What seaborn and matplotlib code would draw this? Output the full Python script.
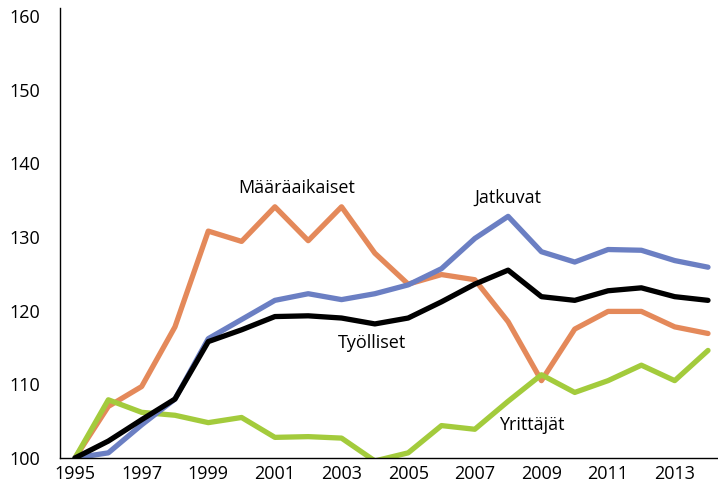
import numpy as np
import pandas as pd
import seaborn as sns
import matplotlib.pyplot as plt
from matplotlib.ticker import MultipleLocator, FixedLocator

years = list(range(1995, 2015))
jatkuvat = [100, 100.7, 104.5, 108, 116.2, 118.8, 121.4, 122.3, 121.5, 122.3,
            123.5, 125.7, 129.8, 132.8, 128, 126.6, 128.3, 128.2, 126.8, 125.9]
maaraaikaiset = [100, 107, 109.7, 117.8, 130.8, 129.4, 134.1, 129.5, 134.1, 127.8,
                 123.6, 124.9, 124.2, 118.5, 110.5, 117.5, 119.9, 119.9, 117.8, 116.9]
tyolliset = [100, 102.3, 105.2, 108, 115.8, 117.4, 119.2, 119.3, 119, 118.2,
             119, 121.2, 123.6, 125.5, 121.9, 121.4, 122.7, 123.1, 121.9, 121.4]
yrittajat = [100, 107.9, 106.2, 105.8, 104.8, 105.5, 102.8, 102.9, 102.7, 99.6,
             100.7, 104.4, 103.9, 107.7, 111.3, 108.9, 110.5, 112.6, 110.5, 114.6]
label_years = list(range(1995, 2014, 2))

series = {
    'Määräaikaiset': maaraaikaiset,
    'Yrittäjät': yrittajat,
    'Jatkuvat': jatkuvat,
    'Työlliset': tyolliset,
}
colors = {
    'Määräaikaiset': '#e4895a',
    'Yrittäjät': '#a3cb3c',
    'Jatkuvat': '#6b7fc3',
    'Työlliset': '#000000',
}

df = pd.concat([pd.DataFrame({'year': years, 'value': v, 'serie': k})
                for k, v in series.items()])

sns.set_style('white')
plt.rcParams['font.family'] = ['Open Sans', 'DejaVu Sans']
plt.rcParams['text.color'] = 'black'

fig = plt.figure(figsize=(7.18, 4.93), dpi=100)
ax = fig.add_axes([0.0836, 0.071, 0.9164, 0.913])

sns.lineplot(data=df, x='year', y='value', hue='serie', palette=colors,
             linewidth=3.8, ax=ax, legend=False)

ax.set_xlim(1994.55, 2014.3)
ax.set_ylim(100, 161.1)
ax.xaxis.set_major_locator(FixedLocator(label_years))
ax.xaxis.set_minor_locator(MultipleLocator(1))
ax.yaxis.set_major_locator(MultipleLocator(10))
ax.set_xlabel('')
ax.set_ylabel('')
ax.tick_params(axis='both', which='both', direction='in', color='#999999',
               labelsize=13, length=6, width=1, labelcolor='black')
ax.tick_params(axis='x', which='major', pad=5)
ax.tick_params(axis='y', pad=14)
for s in ['top', 'right']:
    ax.spines[s].set_visible(False)
for s in ['left', 'bottom']:
    ax.spines[s].set_color('black')
    ax.spines[s].set_linewidth(1)

# series names written on the chart instead of a legend
lbl = dict(fontsize=13, ha='center', va='center', color='black')
ax.text(2001.65, 136.6, 'Määräaikaiset', **lbl)
ax.text(2008.0, 135.3, 'Jatkuvat', **lbl)
ax.text(2003.9, 115.6, 'Työlliset', **lbl)
ax.text(2008.7, 104.5, 'Yrittäjät', **lbl)

fig.savefig('out.png', dpi=100)
